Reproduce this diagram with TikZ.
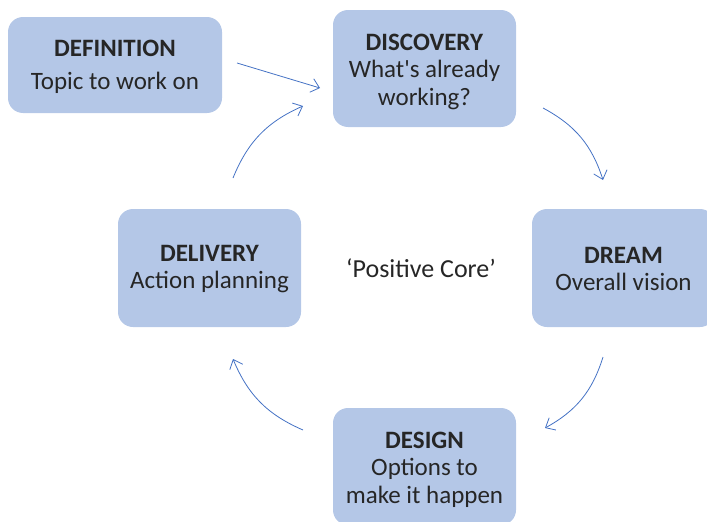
\documentclass[tikz,border=0pt]{standalone}
\usepackage{fontspec}
\setmainfont{Carlito}[Ligatures=TeXReset]
\usetikzlibrary{arrows.meta}
\definecolor{boxfill}{HTML}{B4C7E7}
\definecolor{txt}{HTML}{262626}
\definecolor{arr}{HTML}{4472C4}
\begin{document}
\begin{tikzpicture}[x=1pt,y=-1pt,
  box/.style={fill=boxfill,draw=none,rounded corners=15pt,inner sep=0pt},
  lbl/.style={text=txt,align=center,font=\fontsize{25}{27.5}\selectfont,inner sep=0pt},
  conn/.style={draw=arr,line width=0.8pt,-{Straight Barb[length=8pt,width=14pt,line width=0.8pt]}}]
\clip (0,0) rectangle (707,522);
\useasboundingbox (0,0) rectangle (707,522);
\node[box,minimum width=214pt,minimum height=96pt] (def) at (115,65) {};
\node[box,minimum width=183pt,minimum height=117pt] (disc) at (424.5,68.5) {};
\node[box,minimum width=183pt,minimum height=118pt] (dream) at (623.5,268) {};
\node[box,minimum width=183pt,minimum height=118pt] (deliv) at (209.5,268) {};
\node[box,minimum width=183pt,minimum height=117pt] (design) at (424.5,466.5) {};
\node[lbl] (defT) at ([yshift=-2pt]def.center) {\textbf{DEFINITION}\\[5pt]Topic to work on};
\node[lbl] (discT) at ([yshift=-3pt]disc.center) {\textbf{DISCOVERY}\\What's already\\working?};
\node[lbl] (dreamT) at ([yshift=-1pt]dream.center) {\textbf{DREAM}\\Overall vision};
\node[lbl] (delivT) at ([yshift=-1pt]deliv.center) {\textbf{DELIVERY}\\Action planning};
\node[lbl] (designT) at ([yshift=-3pt]design.center) {\textbf{DESIGN}\\Options to\\make it happen};
\node[lbl,font=\fontsize{26}{28}\selectfont] (core) at (421,268) {‘Positive Core’};
\coordinate (a1s) at (237,63);  \coordinate (a1e) at (320,88);
\coordinate (a2s) at (233,178); \coordinate (a2e) at (303,106);
\coordinate (a3s) at (543,108); \coordinate (a3e) at (603,180);
\coordinate (a4s) at (603,357); \coordinate (a4e) at (545,428);
\coordinate (a5s) at (303,430); \coordinate (a5e) at (233,359);
\draw[conn] (a1s) -- (a1e);
\draw[conn] (a2s) to[bend left=22] (a2e);
\draw[conn] (a3s) to[bend left=22] (a3e);
\draw[conn] (a4s) to[bend left=22] (a4e);
\draw[conn] (a5s) to[bend left=22] (a5e);
\end{tikzpicture}
\end{document}
